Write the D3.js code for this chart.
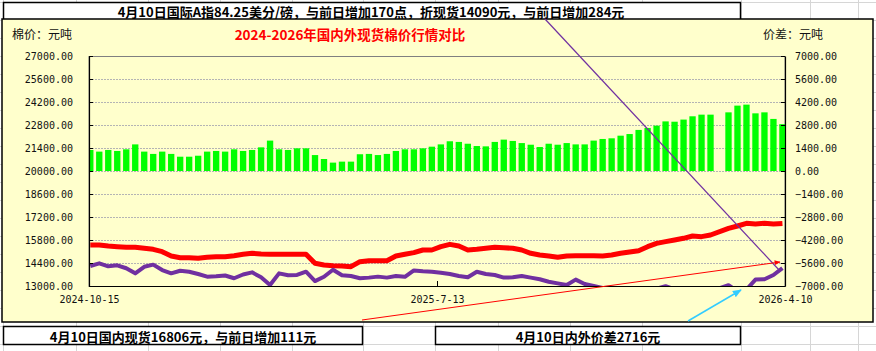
<!DOCTYPE html>
<html>
<head>
<meta charset="utf-8">
<script src="https://cdn.jsdelivr.net/npm/d3@7/dist/d3.min.js"></script>
<style>
    body { margin: 0; background: #fff; }
    svg { display: block; }
    .tick text { font-family: "DejaVu Sans Mono", monospace; font-size: 10px; fill: #111; }
    .cn { font-family: "Noto Sans CJK SC", sans-serif; }
</style>
</head>
<body>
<div id="chart"></div>
<script>

// weekly samples, Monday of each trading week (2024-10-14 ... 2026-04-06)
var weeks = d3.timeMonday.range(new Date(2024, 9, 14), new Date(2026, 3, 7));

// 国内现货 (元/吨), left axis
var domestic = [
    15496, 15496, 15435, 15395, 15354, 15354, 15293, 15232, 15090, 14826,
    14724, 14724, 14684, 14745, 14785, 14785, 14846, 14928, 14989, 14948,
    14928, 14928, 14928, 14928, 14928, 14380, 14279, 14238, 14218, 14177,
    14481, 14542, 14542, 14542, 14826, 14928, 15030, 15192, 15191, 15394,
    15536, 15435, 15191, 15232, 15293, 15354, 15334, 15293, 15191, 14989,
    14887, 14826, 14745, 14826, 14846, 14846, 14846, 14826, 14887, 14989,
    15070, 15151, 15394, 15597, 15699, 15800, 15902, 16044, 16004, 16105,
    null, 16511, 16653, 16815, 16775, 16815, 16775, 16806
];

// 国际A指折现货 (元/吨), left axis
var international = [
    14220, 14380, 14200, 14260, 14080, 13770, 14170, 14300, 13970, 13770,
    13930, 13870, 13730, 13570, 13590, 13640, 13470, 13700, 13830, 13530,
    13060, 13770, 13650, 13670, 13870, 13300, 13560, 13990, 13650, 13610,
    13470, 13510, 13570, 13510, 13610, 13560, 13950, 13900, 13870, 13810,
    13730, 13610, 13530, 13870, 13730, 13670, 13510, 13530, 13610, 13510,
    13410, 13260, 13160, 13060, 13390, 13120, 13000, 12880, 12900, 12840,
    12820, 12660, 12780, 12840, 12990, 12800, 12780, 12720, 12580, 12680,
    null, 13050, 12680, 12780, 13390, 13410, 13670, 14090
];

// 内外价差 (元/吨), right axis
var priceGap = [
    1280, 1180, 1280, 1220, 1320, 1620, 1180, 1040, 1180, 1040,
    870, 870, 930, 1180, 1220, 1180, 1320, 1220, 1280, 1440,
    1850, 1320, 1280, 1380, 1380, 970, 730, 510, 570, 570,
    1020, 1040, 970, 1040, 1220, 1320, 1320, 1380, 1480, 1620,
    1810, 1770, 1660, 1520, 1500, 1770, 1910, 1830, 1700, 1600,
    1460, 1660, 1600, 1700, 1620, 1620, 1850, 1950, 1990, 2150,
    2250, 2500, 2620, 2760, 3020, 3000, 3130, 3330, 3430, 3430,
    null, 3570, 3980, 4040, 3510, 3570, 3170, 2850
];

var leftTicks = [13000, 14400, 15800, 17200, 18600, 20000, 21400, 22800, 24200, 25600, 27000];
var rightTicks = [-7000, -5600, -4200, -2800, -1400, 0, 1400, 2800, 4200, 5600, 7000];
var dateTicks = ["2024-10-15", "2025-07-13", "2026-04-10"];

var titleText = "2024-2026年国内外现货棉价行情对比";
var topNote = "4月10日国际A指84.25美分/磅，与前日增加170点，折现货14090元，与前日增加284元";
var leftNote = "4月10日国内现货16806元，与前日增加111元";
var rightNote = "4月10日内外价差2716元";


var width = 876, height = 351;
var plot = {left: 89, right: 785, top: 56, bottom: 286};
var parseDate = d3.timeParse("%Y-%m-%d");

var svg = d3.select("#chart").append("svg")
    .attr("width", width)
    .attr("height", height);

// spreadsheet cells behind everything
var cols = [3, 76, 148, 220, 292, 363, 435, 498, 570, 642, 741, 810, 858];
var sheet = svg.append("g").attr("stroke", "#d6d6d6").attr("stroke-width", 1);
cols.forEach(function(c){
    sheet.append("line").attr("x1", c + 0.5).attr("x2", c + 0.5).attr("y1", 0).attr("y2", height);
});
d3.range(2, height, 18).forEach(function(r){
    sheet.append("line").attr("x1", 0).attr("x2", width).attr("y1", r + 0.5).attr("y2", r + 0.5);
});

// top text box (partly hidden under the chart)
svg.append("rect")
    .attr("x", 3.5).attr("y", 2.5).attr("width", 737).attr("height", 26)
    .attr("fill", "#fff").attr("stroke", "#000").attr("stroke-width", 1.5);
svg.append("text")
    .attr("class", "cn")
    .attr("x", 371).attr("y", 17)
    .attr("text-anchor", "middle")
    .attr("font-size", "13px").attr("font-weight", "bold")
    .text(topNote);

// chart area
svg.append("rect")
    .attr("x", 2).attr("y", 19).attr("width", 871).attr("height", 303)
    .attr("fill", "#FFFFCC").attr("stroke", "#000").attr("stroke-width", 1.5);

svg.append("defs").append("clipPath").attr("id", "plotclip")
    .append("rect")
    .attr("x", plot.left).attr("y", plot.top)
    .attr("width", plot.right - plot.left).attr("height", plot.bottom - plot.top);

// scales
var x = d3.scaleTime()
    .domain([parseDate(dateTicks[0]), parseDate(dateTicks[2])])
    .range([plot.left, plot.right]);
var yLeft = d3.scaleLinear().domain([13000, 27000]).range([plot.bottom, plot.top]);
var yRight = d3.scaleLinear().domain([-7000, 7000]).range([plot.bottom, plot.top]);

// plot frame + gridlines
svg.append("rect")
    .attr("x", plot.left).attr("y", plot.top + 0.5)
    .attr("width", plot.right - plot.left).attr("height", plot.bottom - plot.top)
    .attr("fill", "none").attr("stroke", "#808080");

svg.append("g").selectAll("line.grid")
    .data(leftTicks.slice(1, -1))
    .enter().append("line")
    .attr("class", "grid")
    .attr("x1", plot.left).attr("x2", plot.right)
    .attr("y1", function(d){ return Math.round(yLeft(d)) + 0.5; })
    .attr("y2", function(d){ return Math.round(yLeft(d)) + 0.5; })
    .attr("stroke", "#b4b4b4")
    .attr("stroke-dasharray", "2,1");

var marks = svg.append("g").attr("clip-path", "url(#plotclip)");

// price gap bars, one block per trading week (Mon..Fri)
var gapData = weeks.map(function(d, i){ return {date: d, value: priceGap[i]}; })
    .filter(function(d){ return d.value != null; });

marks.selectAll("rect.gap")
    .data(gapData)
    .enter().append("rect")
    .attr("class", "gap")
    .attr("x", function(d){ return x(d.date) - 0.6; })
    .attr("width", function(d){ return x(d3.timeDay.offset(d.date, 4)) - x(d.date) + 1.2; })
    .attr("y", function(d){ return yRight(d.value); })
    .attr("height", function(d){ return yRight(0) - yRight(d.value); })
    .attr("fill", "#00FF00");

// price lines (plotted mid-week)
function series(values){
    return weeks.map(function(d, i){ return {date: d3.timeDay.offset(d, 2), value: values[i]}; })
        .filter(function(d){ return d.value != null; });
}
var line = d3.line()
    .x(function(d){ return x(d.date); })
    .y(function(d){ return yLeft(d.value); });

marks.append("path")
    .datum(series(domestic))
    .attr("d", line)
    .attr("fill", "none")
    .attr("stroke", "#FF0000")
    .attr("stroke-width", 5)
    .attr("stroke-linejoin", "round");

marks.append("path")
    .datum(series(international))
    .attr("d", line)
    .attr("fill", "none")
    .attr("stroke", "#7030A0")
    .attr("stroke-width", 4)
    .attr("stroke-linejoin", "round");

// axes
var fmt = d3.format(".2f");

svg.append("g")
    .attr("transform", "translate(" + plot.left + ",0)")
    .call(d3.axisLeft(yLeft).tickValues(leftTicks).tickFormat(fmt).tickSizeInner(-4).tickSizeOuter(0).tickPadding(16))
    .call(function(g){ g.selectAll("line, path").attr("stroke", "#000"); });

svg.append("g")
    .attr("transform", "translate(" + plot.right + ",0)")
    .call(d3.axisRight(yRight).tickValues(rightTicks).tickFormat(fmt).tickSizeInner(-4).tickSizeOuter(0).tickPadding(10))
    .call(function(g){ g.selectAll("line, path").attr("stroke", "#000"); });

svg.append("g")
    .attr("transform", "translate(0," + plot.bottom + ")")
    .call(d3.axisBottom(x).tickValues(dateTicks.map(parseDate)).tickFormat(d3.timeFormat("%Y-%-m-%-d"))
        .tickSizeInner(-5).tickSizeOuter(0).tickPadding(10))
    .call(function(g){ g.selectAll("line, path").attr("stroke", "#000"); });

svg.selectAll(".domain").attr("stroke-width", 1.2);

// titles
svg.append("text")
    .attr("class", "cn")
    .attr("x", 350).attr("y", 40)
    .attr("text-anchor", "middle")
    .attr("font-size", "13.5px").attr("font-weight", "bold")
    .attr("fill", "#FF0000")
    .text(titleText);

svg.append("text")
    .attr("class", "cn")
    .attr("x", 12).attr("y", 39)
    .attr("font-size", "12px").attr("fill", "#111")
    .text("棉价：元吨");

svg.append("text")
    .attr("class", "cn")
    .attr("x", 763).attr("y", 39)
    .attr("font-size", "12px").attr("fill", "#111")
    .text("价差：元吨");

// bottom text boxes
var boxes = [
    {x: 3.5, w: 359, cx: 183, text: leftNote},
    {x: 435.5, w: 305, cx: 588, text: rightNote}
];
boxes.forEach(function(b){
    svg.append("rect")
        .attr("x", b.x).attr("y", 326.5).attr("width", b.w).attr("height", 18)
        .attr("fill", "#fff").attr("stroke", "#000").attr("stroke-width", 1.5);
    svg.append("text")
        .attr("class", "cn")
        .attr("x", b.cx).attr("y", 341.5)
        .attr("text-anchor", "middle")
        .attr("font-size", "13px").attr("font-weight", "bold")
        .text(b.text);
});

// callout arrows
var defs = svg.select("defs");
[["red", "#FF0000"], ["cyan", "#33CCFF"]].forEach(function(m){
    defs.append("marker")
        .attr("id", "arrow-" + m[0])
        .attr("viewBox", "0 0 10 10")
        .attr("refX", 9).attr("refY", 5)
        .attr("markerWidth", 6).attr("markerHeight", 6)
        .attr("orient", "auto")
        .append("path")
        .attr("d", "M0,1L10,5L0,9Z")
        .attr("fill", m[1]);
});

var callouts = [
    {x1: 545, y1: 19, x2: 780, y2: 271, color: "#7030A0", w: 1.2, marker: null},
    {x1: 362, y1: 320, x2: 780, y2: 262, color: "#FF0000", w: 1, marker: "red"},
    {x1: 688, y1: 321, x2: 741, y2: 290, color: "#33CCFF", w: 1.5, marker: "cyan"}
];
callouts.forEach(function(c){
    var l = svg.append("line")
        .attr("x1", c.x1).attr("y1", c.y1).attr("x2", c.x2).attr("y2", c.y2)
        .attr("stroke", c.color).attr("stroke-width", c.w);
    if (c.marker) l.attr("marker-end", "url(#arrow-" + c.marker + ")");
});

</script>
</body>
</html>
